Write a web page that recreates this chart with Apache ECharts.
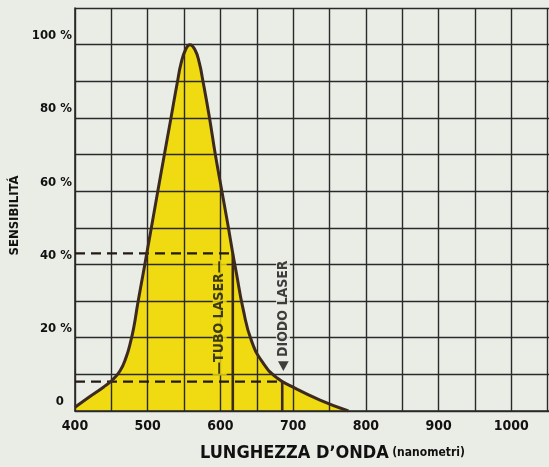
<!DOCTYPE html>
<html>
<head>
<meta charset="utf-8">
<script src="https://cdn.jsdelivr.net/npm/echarts@6/dist/echarts.min.js"></script>
<style>
html,body{margin:0;padding:0;background:#eaece6;}
#c{width:549px;height:467px;}
</style>
</head>
<body>
<div id="c"></div>
<script>
// Data
const wavelengths = [400,421,439,451,462,470,476,481,486,491,496,500,505,513,522,532,541,546,552,558,565,571,576,585,593,602,611,617,622,631,643,659,678,700,737,776];
const sensitivity = [1,4,6.5,8.4,11,14.5,18.5,23,29,34.5,40,44.5,50,59,69,80,90,95,98.6,100,98.6,95,90,80,70,60,50,43,37.6,28,19,13,9,6.5,3,0];
const tubeLaser = [617, 43];    // wavelength, sensitivity
const diodeLaser = [685, 8];
const xTicks = [400,500,600,700,800,900,1000];
const yTicks = [0,20,40,60,80,100];
const annotationTexts = ['—TUBO LASER—', '◀ DIODO LASER'];
const annotationPos = [[599, 25.5], [686, 26]];
const xName = 'LUNGHEZZA D\u02BCONDA';
const xUnit = '(nanometri)';
const yName = 'SENSIBILITA\u0301';

const FONT = '"Liberation Sans Narrow","DejaVu Sans Condensed","Arial Narrow",sans-serif';
const curve = wavelengths.map((w, i) => [w, sensitivity[i]]);

const chart = echarts.init(document.getElementById('c'), null, {renderer: 'canvas'});
chart.setOption({
  backgroundColor: '#eaece6',
  animation: false,
  grid: {left: 75, top: 8, width: 509, height: 403, containLabel: false, outerBoundsMode: 'none'},
  xAxis: {
    type: 'value', min: 400, max: 1100, interval: 50, z: 5,
    axisLine: {show: true, lineStyle: {color: '#2a2a2a', width: 1.6}},
    axisTick: {show: false},
    splitLine: {show: true, lineStyle: {color: '#2a2a2a', width: 1.4}},
    axisLabel: {
      margin: 8, color: '#111', fontFamily: FONT, fontWeight: 'bold', fontSize: 14,
      formatter: v => xTicks.includes(v) ? String(v) : ''
    },
    name: '{a|' + xName + '} {b|' + xUnit + '}',
    nameLocation: 'start', nameGap: 0,
    nameTextStyle: {
      align: 'left', verticalAlign: 'top',
      padding: [33, 0, 0, 125],
      rich: {
        a: {fontFamily: FONT, fontWeight: 'bold', fontSize: 18, color: '#111'},
        b: {fontFamily: FONT, fontWeight: 'bold', fontSize: 12, color: '#111'}
      }
    }
  },
  yAxis: {
    type: 'value', min: 0, max: 110, interval: 10, z: 5,
    axisLine: {show: true, lineStyle: {color: '#2a2a2a', width: 1.6}},
    axisTick: {show: false},
    splitLine: {show: true, lineStyle: {color: '#2a2a2a', width: 1.4}},
    axisLabel: {
      margin: 3, color: '#111', fontFamily: FONT, fontWeight: 'bold', fontSize: 13,
      verticalAlign: 'bottom', lineHeight: 18,
      formatter: v => yTicks.includes(v) ? (v === 0 ? '0  ' : v + ' %') : ''
    },
    name: yName, nameLocation: 'middle', nameGap: 44, nameRotate: 90,
    nameTextStyle: {fontFamily: FONT, fontWeight: 'bold', fontSize: 13, color: '#111', padding: [0, 12, 0, 0]}
  },
  series: [
    {
      type: 'line', data: curve, smooth: 0.5, symbol: 'none', z: 1,
      lineStyle: {width: 0},
      areaStyle: {color: '#f0da12', opacity: 1}
    },
    {
      type: 'line', data: [[400, tubeLaser[1]], tubeLaser], symbol: 'none', z: 9,
      lineStyle: {color: '#231a14', width: 2.2, type: [10, 6]}
    },
    {
      type: 'line', data: [[400, diodeLaser[1]], diodeLaser], symbol: 'none', z: 9,
      lineStyle: {color: '#231a14', width: 2.2, type: [10, 6]}
    },
    {
      type: 'line', data: [[tubeLaser[0], 0], tubeLaser], symbol: 'none', z: 9,
      lineStyle: {color: '#3a2a1e', width: 2.6}
    },
    {
      type: 'line', data: [[diodeLaser[0], 0], diodeLaser], symbol: 'none', z: 9,
      lineStyle: {color: '#3a2a1e', width: 2.6}
    },
    {
      type: 'line', data: curve, smooth: 0.5, symbol: 'none', z: 10,
      lineStyle: {color: '#3d2a1e', width: 3}
    },
    {
      type: 'scatter', symbolSize: 0, z: 12,
      data: annotationPos.map((p, i) => ({
        value: p, name: annotationTexts[i],
        label: {backgroundColor: i === 0 ? '#f0da12' : '#eaece6', padding: [0, 1]}
      })),
      label: {
        show: true, position: 'inside', rotate: 90, formatter: p => p.name,
        fontFamily: FONT, fontWeight: 'bold', fontSize: 14, color: '#111'
      },
      labelLayout: {hideOverlap: false}
    }
  ]
});
</script>
</body>
</html>
